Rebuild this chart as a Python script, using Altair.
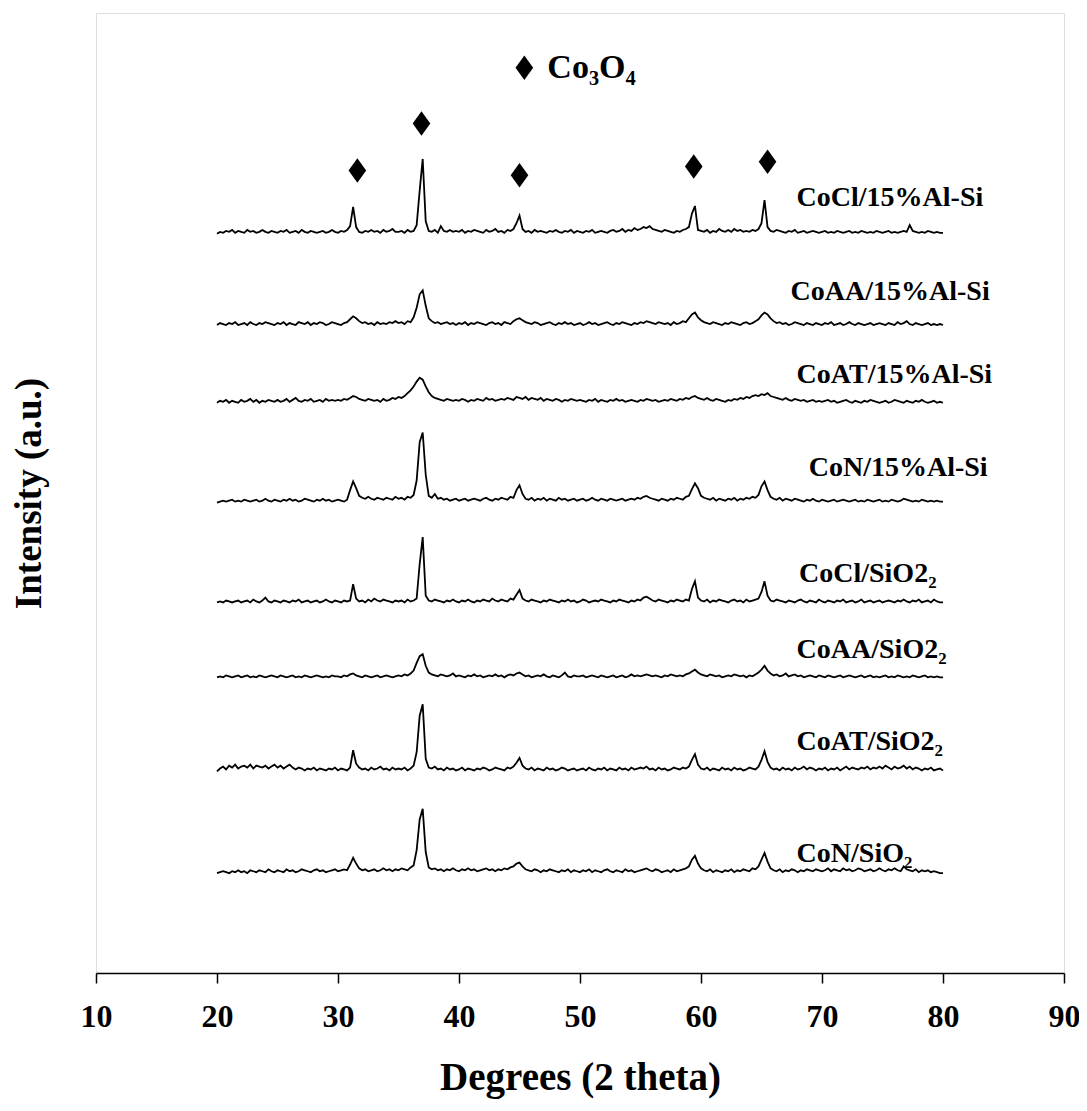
import altair as alt
import pandas as pd

# ---------------- data ----------------
X_START = 20.0   # first 2-theta value of every pattern
X_STEP = 0.25    # sampling step in degrees

SERIES = ["CoCl/15%Al-Si", "CoAA/15%Al-Si", "CoAT/15%Al-Si", "CoN/15%Al-Si",
          "CoCl/SiO2", "CoAA/SiO2", "CoAT/SiO2", "CoN/SiO2"]
# vertical offset (a.u.) of each stacked pattern
OFFSETS = [769, 673, 592, 489, 384, 307, 208, 102]

T1 = [1,3,2,4,3,5,2,4,3,2,5,3,4,2,3,5,3,2,4,3,
      2,4,3,5,2,3,4,2,5,3,2,4,3,2,3,4,2,3,5,3,
      2,4,3,5,9,29,8,3,2,4,3,5,3,4,2,5,3,4,6,3,
      3,4,2,5,3,4,10,46,79,14,4,3,5,2,9,4,3,5,3,4,
      3,5,2,4,3,5,4,3,2,5,3,4,6,3,4,2,5,4,6,12,
      20,6,3,4,2,5,3,4,3,2,4,3,5,3,2,4,3,5,2,4,
      3,2,4,3,5,2,3,4,3,2,4,5,3,4,6,3,5,4,7,5,
      6,8,7,9,6,5,4,3,5,4,3,2,4,3,5,6,8,22,30,5,
      4,3,5,2,4,3,6,4,3,5,3,6,4,5,3,4,3,5,4,6,
      12,36,8,4,3,5,4,3,2,4,3,5,2,3,4,2,3,4,3,2,
      3,4,2,3,2,4,3,2,3,4,2,3,2,4,3,2,3,2,4,3,
      2,3,4,2,3,2,3,4,3,10,4,3,2,3,2,4,3,2,3,2,
      2]
T2 = [2,4,3,2,4,3,5,2,3,4,2,5,3,2,4,3,5,4,3,2,
      4,3,5,2,4,3,2,5,4,3,5,2,4,3,5,4,2,3,5,4,
      3,2,4,5,8,11,9,6,4,5,3,4,2,5,3,4,3,5,4,6,
      4,5,3,6,5,10,20,34,38,22,9,6,4,5,3,4,5,3,4,2,
      4,3,5,2,4,3,5,4,3,2,4,5,3,4,2,5,4,3,6,8,
      9,7,5,4,3,5,4,2,3,4,5,3,2,4,3,5,3,4,2,3,
      4,2,3,5,3,4,2,3,4,5,3,2,4,3,5,4,3,2,4,3,
      5,4,6,5,4,3,5,4,3,4,2,5,3,4,6,5,9,13,15,10,
      7,5,4,3,5,4,3,2,4,3,5,4,3,2,4,5,3,4,6,8,
      12,15,13,9,6,4,5,3,4,2,3,5,4,3,2,4,3,2,4,3,
      2,4,3,5,2,3,4,2,3,5,3,2,4,3,2,3,4,2,3,4,
      3,2,4,3,2,5,3,4,6,3,2,4,3,2,3,4,2,3,2,3,
      2]
T3 = [2,4,3,5,2,4,3,2,5,3,4,6,3,5,2,4,3,5,4,3,
      5,3,4,6,3,5,7,4,3,5,4,6,3,4,5,3,6,4,5,4,
      5,4,6,5,7,9,8,6,5,4,6,5,4,5,3,6,4,5,7,6,
      8,7,9,12,15,19,24,28,26,19,13,9,7,6,5,4,6,5,4,5,
      4,6,5,3,5,4,6,5,4,7,5,6,4,5,6,5,7,6,5,8,
      7,6,8,5,7,6,5,7,4,6,5,4,6,5,3,5,4,6,5,4,
      5,4,3,5,4,6,3,5,4,3,5,4,6,4,5,3,4,5,4,3,
      5,4,6,5,4,5,3,4,5,4,6,5,4,6,5,7,6,8,9,7,
      6,5,7,5,4,6,5,4,3,5,4,6,5,7,6,8,7,9,10,9,
      11,10,12,9,8,7,6,5,7,5,4,6,5,4,5,3,4,5,3,4,
      3,4,5,3,4,2,3,4,5,3,2,4,3,2,4,3,5,4,3,2,
      3,4,2,3,5,4,3,2,4,3,2,4,3,5,3,2,3,4,2,3,
      2]
T4 = [1,2,3,2,3,4,2,3,2,4,3,2,3,4,2,3,5,3,2,4,
      3,2,4,3,5,3,4,2,3,5,4,3,2,4,3,5,3,4,2,3,
      4,3,2,4,14,23,16,8,6,5,7,5,4,6,5,4,6,5,4,7,
      5,6,4,7,6,9,24,64,74,30,8,6,10,5,6,4,5,3,4,5,
      3,4,5,3,4,5,4,3,5,6,4,3,5,4,6,5,4,7,6,14,
      19,10,5,4,6,3,5,4,6,3,5,4,3,6,4,5,3,4,5,3,
      4,5,3,4,6,4,3,5,4,3,5,4,3,4,5,3,4,5,4,6,
      5,7,8,6,5,4,3,5,4,3,5,4,6,5,4,7,8,15,21,16,
      8,6,5,4,6,3,5,4,3,5,4,6,3,5,4,6,5,7,6,9,
      18,23,14,7,5,4,6,3,5,4,3,5,4,3,2,4,3,5,3,2,
      4,3,2,3,4,2,3,4,3,2,3,4,2,3,2,4,3,2,3,4,
      2,3,2,4,3,2,3,5,4,3,2,3,2,4,3,2,3,2,3,2,
      2]
T5 = [2,3,2,4,3,2,3,4,2,3,4,2,5,3,2,4,7,3,2,4,
      3,2,4,3,2,4,3,5,2,3,4,2,3,4,2,3,5,3,2,4,
      3,2,4,3,4,21,6,3,4,2,5,3,6,4,3,5,4,3,2,4,
      3,4,2,5,3,4,6,42,70,9,4,3,5,4,3,2,4,3,5,3,
      2,4,3,5,3,2,4,3,5,4,3,6,4,3,5,4,3,6,5,10,
      15,6,4,3,5,4,3,2,4,3,5,4,3,2,4,3,5,3,4,2,
      3,5,4,2,3,4,3,5,4,3,2,4,3,5,4,3,2,4,3,5,
      4,7,8,6,4,3,5,4,3,2,4,3,5,4,3,5,4,16,24,7,
      4,3,5,2,4,3,5,4,3,2,4,5,3,4,2,5,3,4,5,6,
      13,24,9,4,3,5,4,3,2,4,3,2,4,5,3,2,4,3,2,5,
      3,2,4,3,2,4,3,5,2,3,4,2,3,5,2,3,4,2,3,4,
      2,3,4,3,2,4,3,5,3,2,4,3,5,2,3,4,2,5,3,2,
      2]
T6 = [1,2,1,3,2,1,2,3,1,2,3,1,2,1,3,2,1,2,3,2,
      1,3,2,1,2,3,1,2,1,3,2,1,2,3,2,1,2,1,3,2,
      2,1,3,2,4,5,3,2,1,3,2,1,2,3,1,2,3,2,1,2,
      3,2,4,3,5,8,16,23,25,13,6,4,3,2,4,3,2,3,5,2,
      3,2,1,3,2,4,2,3,1,2,3,2,4,2,3,1,3,4,3,5,
      6,4,2,3,1,2,3,2,4,2,1,3,2,1,3,6,2,1,3,2,
      2,3,1,2,3,2,1,3,2,1,2,3,1,2,3,1,2,4,2,3,
      2,3,4,3,2,3,2,1,3,2,4,3,2,3,2,4,5,7,9,6,
      4,3,2,4,3,2,3,1,2,3,2,4,3,2,3,1,3,2,4,6,
      9,13,8,5,3,4,2,3,5,2,3,4,2,3,1,2,3,2,1,3,
      2,1,3,2,1,2,3,1,2,3,2,1,2,3,1,2,3,1,2,1,
      2,3,1,2,1,3,2,1,2,1,3,2,1,2,3,1,2,1,2,1,
      1]
T7 = [2,5,7,4,8,6,9,5,7,8,6,9,5,8,7,6,8,5,7,9,
      6,8,5,7,9,6,4,6,5,3,5,4,6,3,5,4,3,5,4,6,
      3,5,4,3,6,24,10,6,4,5,3,6,4,5,7,4,5,3,6,4,
      5,4,6,3,5,8,22,60,72,15,6,5,7,4,5,3,6,4,5,3,
      4,6,3,5,4,3,5,4,6,5,3,4,6,5,4,3,6,5,7,11,
      16,8,5,4,6,3,5,4,3,6,4,5,3,4,6,5,3,4,5,3,
      4,5,3,6,4,3,5,4,6,3,5,4,3,6,4,5,3,6,4,5,
      6,5,7,4,5,3,6,4,5,3,4,6,5,4,6,5,7,14,20,9,
      5,4,6,3,5,4,3,6,4,5,3,6,4,5,3,4,6,5,4,7,
      14,23,12,6,4,5,3,6,4,5,3,6,4,5,7,4,6,5,3,5,
      4,6,3,5,4,6,3,5,7,4,6,5,4,6,5,7,4,6,5,7,
      5,8,6,4,7,5,6,8,5,7,4,6,5,3,5,4,6,3,4,5,
      3]
T8 = [2,3,4,3,2,4,3,5,3,4,2,5,4,3,5,4,3,6,4,3,
      5,4,3,6,4,5,3,4,6,5,4,3,5,6,4,5,3,4,5,6,
      4,5,6,5,11,18,12,7,5,6,4,5,6,4,5,7,5,6,4,6,
      5,7,6,5,8,10,26,58,69,24,8,6,7,5,6,4,6,5,7,5,
      4,6,5,7,5,6,4,5,6,7,5,6,4,6,5,7,6,8,9,12,
      13,9,6,5,4,6,5,3,5,4,6,5,4,3,5,4,6,3,5,4,
      3,5,4,6,3,5,4,3,5,6,4,3,5,4,3,6,4,5,3,4,
      5,6,7,5,4,6,5,3,4,5,3,6,4,5,6,7,9,16,20,12,
      7,5,4,6,3,5,4,3,5,4,6,3,5,4,6,5,4,7,6,9,
      16,23,14,7,5,4,6,3,5,4,6,5,3,5,4,6,5,4,6,5,
      4,5,7,4,6,5,4,7,5,6,4,5,7,6,4,5,6,4,5,7,
      5,4,6,5,7,5,4,9,6,5,4,6,3,5,4,5,3,4,3,2,
      2]
TRACES = [T1, T2, T3, T4, T5, T6, T7, T8]

# series labels (text, anchor x in degrees, anchor y in a.u.)
LABEL_TEXT = ["CoCl/15%Al-Si", "CoAA/15%Al-Si", "CoAT/15%Al-Si", "CoN/15%Al-Si",
              "CoCl/SiO2\u2082", "CoAA/SiO2\u2082", "CoAT/SiO2\u2082", "CoN/SiO\u2082"]
LABEL_X = [67.9, 67.4, 67.9, 68.9, 68.1, 67.9, 67.9, 67.9]
LABEL_Y = [799, 701, 615, 518, 407, 328, 232, 116]

# Co3O4 reflection markers
MARK_X = [31.6, 36.9, 45.0, 59.4, 65.5]
MARK_Y = [836, 885, 831, 840, 845]

# legend entry
LEGEND_X = [45.4]
LEGEND_Y = [943]
LEGEND_TEXT = ["Co\u2083O\u2084"]
LEGEND_TEXT_X = [47.3]

X_TICKS = [10, 20, 30, 40, 50, 60, 70, 80, 90]

# ---------------- build tables ----------------
rows = []
for name, off, vals in zip(SERIES, OFFSETS, TRACES):
    for i, v in enumerate(vals):
        rows.append({"series": name, "x": X_START + X_STEP * i, "y": off + v})
df = pd.DataFrame(rows)

labels_df = pd.DataFrame({"x": LABEL_X, "y": LABEL_Y, "t": LABEL_TEXT})
marks_df = pd.DataFrame({"x": MARK_X + LEGEND_X, "y": MARK_Y + LEGEND_Y})
legend_df = pd.DataFrame({"x": LEGEND_TEXT_X, "y": LEGEND_Y, "t": LEGEND_TEXT})

FONT = "Liberation Serif"
xscale = alt.Scale(domain=[10, 90], nice=False, zero=False)
yscale = alt.Scale(domain=[0, 1000], nice=False, zero=False)

x_axis = alt.Axis(values=X_TICKS, title="Degrees (2 theta)", grid=False,
                  domainColor="black", domainWidth=1.5, tickColor="black",
                  tickWidth=1.5, tickSize=10, labelFont=FONT, labelFontSize=32,
                  labelFontWeight="bold", labelColor="black", labelPadding=18,
                  titleFont=FONT, titleFontSize=39, titleFontWeight="bold",
                  titleColor="black", titlePadding=26, labelFlush=False)
y_axis = alt.Axis(title="Intensity (a.u.)", labels=False, ticks=False, domain=False,
                  grid=False, titleFont=FONT, titleFontSize=37, titleFontWeight="bold",
                  titleColor="black", titlePadding=48)

lines = alt.Chart(df).mark_line(color="black", strokeWidth=1.8,
                                strokeJoin="miter").encode(
    x=alt.X("x:Q", scale=xscale, axis=x_axis),
    y=alt.Y("y:Q", scale=yscale, axis=y_axis),
    detail="series:N",
)

diamond = "M0,-1L0.72,0L0,1L-0.72,0Z"
markers = alt.Chart(marks_df).mark_point(shape=diamond, size=600, filled=True,
                                         color="black", opacity=1).encode(
    x=alt.X("x:Q", scale=xscale), y=alt.Y("y:Q", scale=yscale))

labels = alt.Chart(labels_df).mark_text(align="left", baseline="alphabetic",
                                        font=FONT, fontSize=28, fontWeight="bold",
                                        color="black").encode(
    x=alt.X("x:Q", scale=xscale), y=alt.Y("y:Q", scale=yscale), text="t:N")

legend = alt.Chart(legend_df).mark_text(align="left", baseline="middle",
                                        font=FONT, fontSize=34, fontWeight="bold",
                                        color="black").encode(
    x=alt.X("x:Q", scale=xscale), y=alt.Y("y:Q", scale=yscale), text="t:N")

chart = alt.layer(lines, markers, labels, legend).properties(
    width=968, height=960,
    autosize=alt.AutoSizeParams(type="none"),
    padding={"left": 88, "top": 5, "right": 15, "bottom": 130},
).configure_view(stroke="black", strokeWidth=1.5).configure(background="white")

chart.save("out.html", embed_options={"renderer": "svg", "actions": False})
